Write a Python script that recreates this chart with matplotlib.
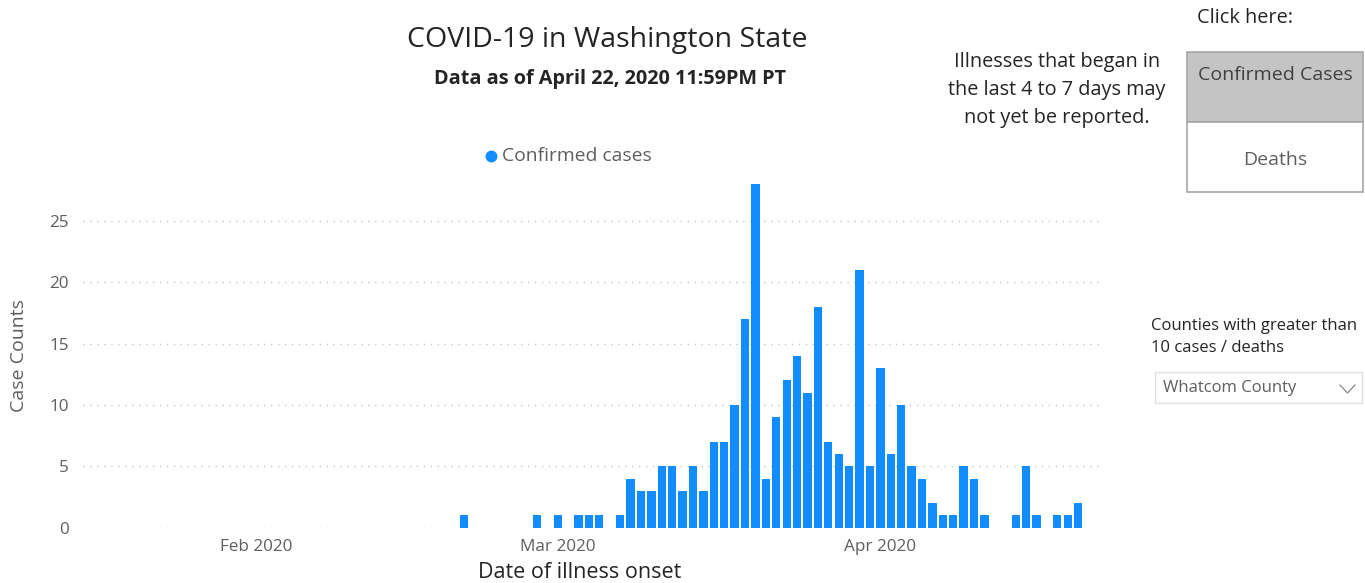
import numpy as np
import pandas as pd
import matplotlib
matplotlib.use("Agg")
import matplotlib.pyplot as plt
import matplotlib.dates as mdates
from matplotlib.patches import Rectangle

# daily confirmed cases by date of illness onset, Whatcom County
start_day = "2020-02-21"
cases = [1, 0, 0, 0, 0, 0, 0, 1, 0, 1,
         0, 1, 1, 1, 0, 1, 4, 3, 3, 5,
         5, 3, 5, 3, 7, 7, 10, 17, 28, 4,
         9, 12, 14, 11, 18, 7, 6, 5, 21, 5,
         13, 6, 10, 5, 4, 2, 1, 1, 5, 4,
         1, 0, 0, 1, 5, 1, 0, 1, 1, 2]
days = pd.date_range(start_day, periods=len(cases), freq="D")
month_ticks = pd.to_datetime(["2020-02-01", "2020-03-01", "2020-04-01"])
month_labels = ["Feb 2020", "Mar 2020", "Apr 2020"]
y_ticks = [0, 5, 10, 15, 20, 25]

plt.rcParams['font.family'] = ['Open Sans', 'DejaVu Sans']
blue = "#118DFF"
grey = "#605E5C"
dark = "#252423"

W, H = 1365, 583
fig = plt.figure(figsize=(W / 100, H / 100), dpi=100, facecolor='w')

# plot area in pixels
left, right, bottom, top = 83, 1100, 527.7, 184
ax = fig.add_axes([left / W, 1 - bottom / H, (right - left) / W, (bottom - top) / H])

x = mdates.date2num(days)
ax.bar(x, cases, width=0.8, color=blue, zorder=3)

base = mdates.date2num(pd.Timestamp(start_day))
ax.set_xlim(base - 36.6, base + 61.1)
ax.set_ylim(0, 28)
ax.set_xticks(mdates.date2num(month_ticks))
ax.set_xticklabels(month_labels)
ax.set_yticks(y_ticks)
ax.tick_params(axis='both', length=0, colors=grey, labelsize=12.3)
ax.tick_params(axis='x', pad=8)
ax.tick_params(axis='y', pad=10)
ax.grid(axis='y', ls=(0, (1, 4)), color='#C8C6C4', lw=1, zorder=0)
for s in ax.spines.values():
    s.set_visible(False)
ax.set_xlabel("Date of illness onset", color=dark, fontsize=15.5)
ax.xaxis.set_label_coords((580 - left) / (right - left), -0.1)
ax.set_ylabel("Case Counts", color=grey, fontsize=14)
ax.yaxis.set_label_coords(-0.054, 0.5)

# overlay for titles and the report controls, pixel coordinates
ov = fig.add_axes([0, 0, 1, 1], facecolor='none')
ov.set_xlim(0, W)
ov.set_ylim(H, 0)
ov.axis('off')

ov.text(607, 40, "COVID-19 in Washington State", ha='center', va='center',
        fontsize=20.5, color=dark)
ov.text(610, 79, "Data as of April 22, 2020 11:59PM PT", ha='center', va='center',
        fontsize=14.3, fontweight='bold', color=dark)

# legend
ov.plot([491], [156], 'o', color=blue, markersize=7.5)
ov.text(502, 156, "Confirmed cases", ha='left', va='center', fontsize=13.9, color=grey)

ov.text(1057, 90, "Illnesses that began in\nthe last 4 to 7 days may\nnot yet be reported.",
        ha='center', va='center', fontsize=14.3, color=dark, linespacing=1.52)

ov.text(1245, 18, "Click here:", ha='center', va='center', fontsize=14.3, color=dark)
ov.add_patch(Rectangle((1187, 52), 176, 70, facecolor='#C4C4C4', edgecolor='#A6A6A6', lw=1.2))
ov.add_patch(Rectangle((1187, 122), 176, 70, facecolor='white', edgecolor='#A6A6A6', lw=1.2))
ov.text(1275, 75, "Confirmed Cases", ha='center', va='center', fontsize=14, color='#404040')
ov.text(1275, 160, "Deaths", ha='center', va='center', fontsize=14, color=grey)

ov.text(1151, 337, "Counties with greater than\n10 cases / deaths", ha='left', va='center',
        fontsize=12, color=dark, linespacing=1.45)
ov.add_patch(Rectangle((1155, 372), 207, 31, facecolor='white', edgecolor='#E1DFDD', lw=1))
ov.text(1163, 388, "Whatcom County", ha='left', va='center', fontsize=12, color=grey)
ov.plot([1340, 1347.5, 1355], [385, 393, 385], color='#8A8886', lw=0.9)

fig.savefig("out.png", dpi=100, facecolor='w')
